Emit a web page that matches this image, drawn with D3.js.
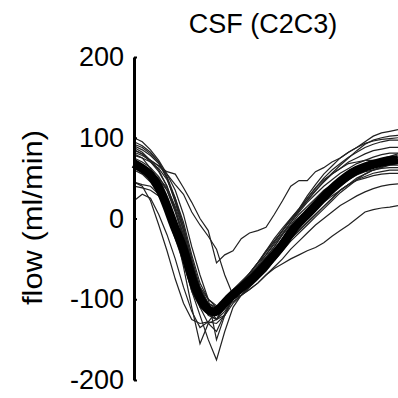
<!DOCTYPE html>
<html>
<head>
<meta charset="utf-8">
<script src="https://cdn.jsdelivr.net/npm/d3@7"></script>
<style>
html,body{margin:0;padding:0;background:#fff;}
svg{display:block;}
text{font-family:"Liberation Sans",Arial,sans-serif;fill:#000;}
</style>
</head>
<body>
<svg id="chart" width="398" height="398"></svg>
<script>
// ---- data ----
const title = "CSF (C2C3)";
const yLabel = "flow (ml/min)";
const yTicks = [200, 100, 0, -100, -200];
const yDomain = [-200, 200];
const timePoints = d3.range(33); // sample index over the cardiac cycle

const meanFlow = [68,62,55,40,16,-14,-35,-75,-100,-115,-117,-104,-94,-86,-78,-68,-57,-45,-33,-17,-5,5,16,27,37,46,54,60,64,67,70,72,73];

const subject01 = [85,80,72,65,58,55,38,20,0,-15,-55,-45,-40,-25,-18,-15,-11,5,22,40,47,47,58,63,70,75,82,88,95,102,106,108,110];
const subject02 = [60,55,45,30,10,-20,-50,-90,-120,-150,-175,-140,-110,-95,-85,-75,-62,-50,-38,-25,-15,-5,5,15,25,35,42,50,55,60,63,66,68];
const subject03 = [80,75,62,45,20,-15,-60,-110,-155,-130,-125,-120,-100,-90,-80,-70,-58,-45,-32,-20,-8,2,12,22,32,42,50,57,62,66,70,74,76];
const subject04 = [45,40,22,-8,-40,-75,-105,-125,-130,-128,-115,-105,-95,-85,-75,-65,-52,-40,-25,-10,0,10,20,30,38,47,55,60,66,70,74,77,80];
const subject05 = [40,38,35,28,15,-5,-30,-60,-90,-105,-110,-100,-98,-95,-88,-80,-70,-62,-56,-50,-45,-40,-36,-30,-22,-15,-8,0,8,11,13,14,16];
const subject06 = [88,82,72,60,40,10,-20,-55,-85,-100,-108,-105,-100,-95,-88,-80,-70,-60,-50,-38,-28,-18,-8,0,8,16,22,28,33,37,40,42,43];
const subject07 = [75,70,63,52,35,8,-25,-70,-105,-120,-125,-115,-100,-88,-80,-70,-58,-45,-32,-20,-10,0,10,20,28,35,42,47,50,53,55,56,56];
const subject08 = [95,90,82,70,50,20,-15,-55,-90,-110,-118,-108,-95,-85,-75,-65,-55,-45,-35,-25,-15,-5,5,15,25,35,42,48,52,56,58,60,60];
const subject09 = [65,60,55,48,35,10,-20,-60,-95,-115,-120,-110,-98,-90,-80,-70,-58,-48,-35,-22,-10,0,12,22,32,40,48,54,58,60,62,63,63];
const subject10 = [90,85,78,68,50,22,-10,-50,-85,-105,-112,-100,-90,-82,-72,-60,-48,-35,-20,-8,5,15,25,35,42,50,56,60,63,65,66,66,66];
const subject11 = [100,95,85,72,55,42,30,8,-8,-22,-38,-70,-95,-80,-68,-55,-45,-30,-15,0,12,25,38,48,55,62,68,70,72,72,72,72,72];
const subject12 = [70,65,58,50,38,15,-15,-58,-95,-118,-125,-110,-95,-82,-70,-58,-45,-32,-18,-5,8,20,30,40,48,56,62,68,72,76,79,81,81];
const subject13 = [85,80,70,58,40,12,-25,-70,-110,-130,-140,-118,-100,-85,-72,-60,-48,-35,-20,-5,10,22,35,45,55,62,70,75,80,84,86,88,88];
const subject14 = [92,88,80,70,52,25,-10,-50,-88,-110,-125,-105,-88,-78,-68,-55,-40,-25,-12,0,12,25,38,50,60,68,76,82,88,92,95,97,97];
const subject15 = [78,75,70,62,48,25,-5,-45,-80,-100,-110,-105,-92,-80,-68,-55,-40,-28,-15,-2,10,22,34,46,56,66,75,84,92,97,100,102,103];
const subject16 = [22,30,25,5,-20,-50,-85,-115,-135,-128,-130,-120,-105,-95,-85,-75,-65,-52,-40,-28,-18,-8,2,12,22,32,40,48,55,60,64,67,70];
const subject17 = [45,42,40,30,5,-25,-55,-90,-110,-115,-118,-110,-103,-95,-85,-72,-60,-48,-35,-22,-10,2,14,25,35,44,52,58,62,66,68,69,70];
const subject18 = [82,78,72,65,55,35,5,-35,-70,-100,-150,-120,-95,-80,-68,-55,-42,-28,-15,-2,12,28,42,55,65,75,82,88,93,96,98,99,100];

const subjects = [subject01,subject02,subject03,subject04,subject05,subject06,subject07,subject08,subject09,
  subject10,subject11,subject12,subject13,subject14,subject15,subject16,subject17,subject18];

// ---- chart ----
const svg = d3.select("#chart");
const axisX = 134;
const x = d3.scaleLinear().domain([0, 32]).range([axisX, 398]);
const y = d3.scaleLinear().domain(yDomain).range([380, 57]);

const line = d3.line().x((d, i) => x(timePoints[i])).y(d => y(d));

svg.append("g")
  .selectAll("path")
  .data(subjects)
  .join("path")
  .attr("d", line)
  .attr("fill", "none")
  .attr("stroke", "#222")
  .attr("stroke-width", 1.2)
  .attr("stroke-linejoin", "miter");

svg.append("path")
  .datum(meanFlow)
  .attr("d", line.curve(d3.curveBasis))
  .attr("fill", "none")
  .attr("stroke", "#000")
  .attr("stroke-width", 9)
  .attr("stroke-linecap", "butt")
  .attr("stroke-linejoin", "round");

const yAxis = d3.axisLeft(y)
  .tickValues(yTicks)
  .tickFormat(d => String(d))
  .tickSizeInner(-3)
  .tickSizeOuter(0)
  .tickPadding(10);

const gAxis = svg.append("g")
  .attr("transform", `translate(${axisX},0)`)
  .call(yAxis);
gAxis.select(".domain").attr("stroke", "#000").attr("stroke-width", 3);
gAxis.selectAll(".tick line").attr("stroke", "#000").attr("stroke-width", 2);
gAxis.selectAll(".tick text")
  .attr("font-family", "'Liberation Sans', Arial, sans-serif")
  .attr("font-size", 27)
  .attr("fill", "#000");

svg.append("text")
  .attr("x", 263)
  .attr("y", 33)
  .attr("text-anchor", "middle")
  .attr("font-size", 27)
  .text(title);

svg.append("text")
  .attr("transform", `translate(42,${(130 + 305) / 2}) rotate(-90)`)
  .attr("text-anchor", "middle")
  .attr("font-size", 27)
  .attr("textLength", 175)
  .attr("lengthAdjust", "spacingAndGlyphs")
  .text(yLabel);
</script>
</body>
</html>
